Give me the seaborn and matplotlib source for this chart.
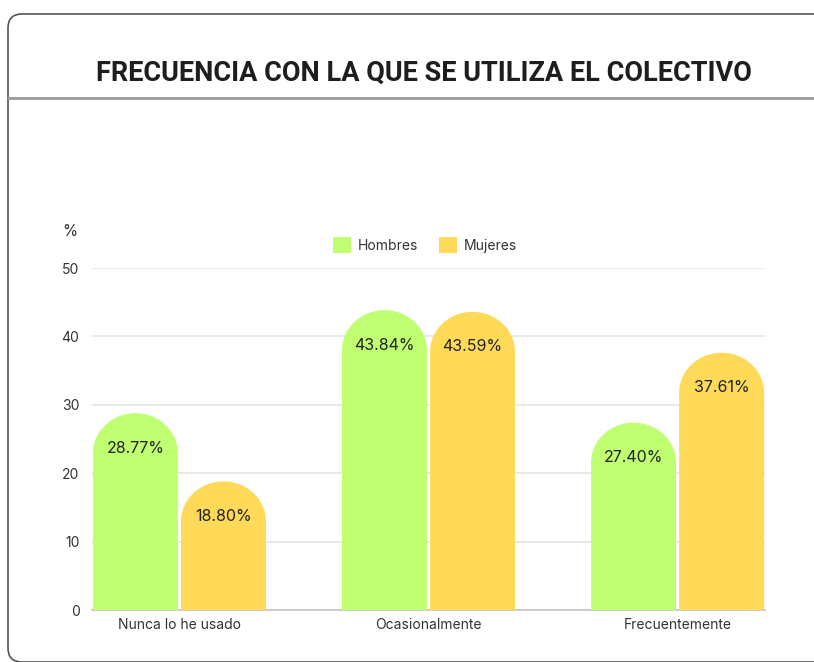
import numpy as np
import pandas as pd
import matplotlib
matplotlib.use('Agg')
import matplotlib.pyplot as plt
import seaborn as sns
from matplotlib.path import Path
from matplotlib.patches import PathPatch, Patch, FancyBboxPatch
from matplotlib.lines import Line2D
from matplotlib.transforms import IdentityTransform

# --- Datos ---
categorias = ['Nunca lo he usado', 'Ocasionalmente', 'Frecuentemente']
hombres = [28.77, 43.84, 27.40]
mujeres = [18.80, 43.59, 37.61]
grupos = ['Hombres', 'Mujeres']
colores = ['#C1FF72', '#FFDA58']
yticks = [0, 10, 20, 30, 40, 50]

df = pd.DataFrame({
    'categoria': categorias * 2,
    'valor': hombres + mujeres,
    'grupo': [grupos[0]] * 3 + [grupos[1]] * 3,
})

sns.set_theme(style="white")
plt.rcParams['font.family'] = ['Inter', 'DejaVu Sans']

W, H = 814, 662
fig = plt.figure(figsize=(W / 100, H / 100), dpi=100)

# tarjeta de fondo
card = FancyBboxPatch((8, 0), 900, 648, boxstyle="round,pad=0,rounding_size=14",
                      transform=IdentityTransform(), facecolor='white',
                      edgecolor='#555555', linewidth=1.2, zorder=-5)
fig.patches.append(card)
fig.lines.append(Line2D([8, 814], [H - 98, H - 98], transform=IdentityTransform(),
                        color='#9a9a9a', linewidth=2, zorder=-4))

fig.text(424 / W, 1 - 73 / H, 'FRECUENCIA CON LA QUE SE UTILIZA EL COLECTIVO',
         ha='center', va='center', fontsize=19.5, fontweight='bold', color='#1e1e1e',
         family=['Roboto', 'DejaVu Sans'])

ax_h = 342
ax = fig.add_axes([92 / W, 52 / H, (765 - 92) / W, ax_h / H])
ax.set_facecolor('none')

sns.barplot(data=df, x='categoria', y='valor', hue='grupo', palette=colores,
            saturation=1, width=0.707, gap=0.035, linewidth=0, legend=False, ax=ax)

ax.set_ylim(0, 50)
ax.set_xlim(-0.351, 2.351)

# barras con la parte superior redondeada
ppu = ax_h / 50
ry = 40 / ppu
for p in list(ax.patches):
    x0, w, h = p.get_x(), p.get_width(), p.get_height()
    fc = p.get_facecolor()
    p.remove()
    rx = w / 2
    t = np.linspace(np.pi, 0, 60)
    arc = np.column_stack([x0 + rx + rx * np.cos(t), h - ry + ry * np.sin(t)])
    verts = np.vstack([[x0, 0], [x0, h - ry], arc, [x0 + w, 0], [x0, 0]])
    codes = [Path.MOVETO] + [Path.LINETO] * (len(verts) - 2) + [Path.CLOSEPOLY]
    ax.add_patch(PathPatch(Path(verts, codes), facecolor=fc, edgecolor='none', zorder=3))
    ax.annotate(f'{h:.2f}%', (x0 + rx, h), xytext=(0, -35 * 0.72),
                textcoords='offset points', ha='center', va='center',
                fontsize=11.5, color='#222222', zorder=4)

ax.set_yticks(yticks)
ax.grid(axis='y', color='#e4e4e4', linewidth=1.2, zorder=0)
ax.set_axisbelow(True)
for s in ['top', 'left', 'right']:
    ax.spines[s].set_visible(False)
ax.spines['bottom'].set_color('#c4c4c4')
ax.spines['bottom'].set_linewidth(1.2)
ax.tick_params(axis='y', length=0, pad=9, labelsize=10, labelcolor='#333333')
ax.tick_params(axis='x', length=0, pad=6, labelsize=10, labelcolor='#333333')
ax.set_xlabel('')
ax.set_ylabel('')

fig.text(70 / W, 1 - 232 / H, '%', ha='center', va='center', fontsize=11, color='#333333')

handles = [Patch(facecolor=c, edgecolor='none', label=g) for g, c in zip(grupos, colores)]
fig.legend(handles=handles, loc='center', bbox_to_anchor=(425 / W, 1 - 245 / H),
           ncol=2, frameon=False, fontsize=10, handlelength=1.3, handleheight=1.3,
           handletextpad=0.5, columnspacing=1.5, labelcolor='#333333')

fig.savefig('out.png', dpi=100)
